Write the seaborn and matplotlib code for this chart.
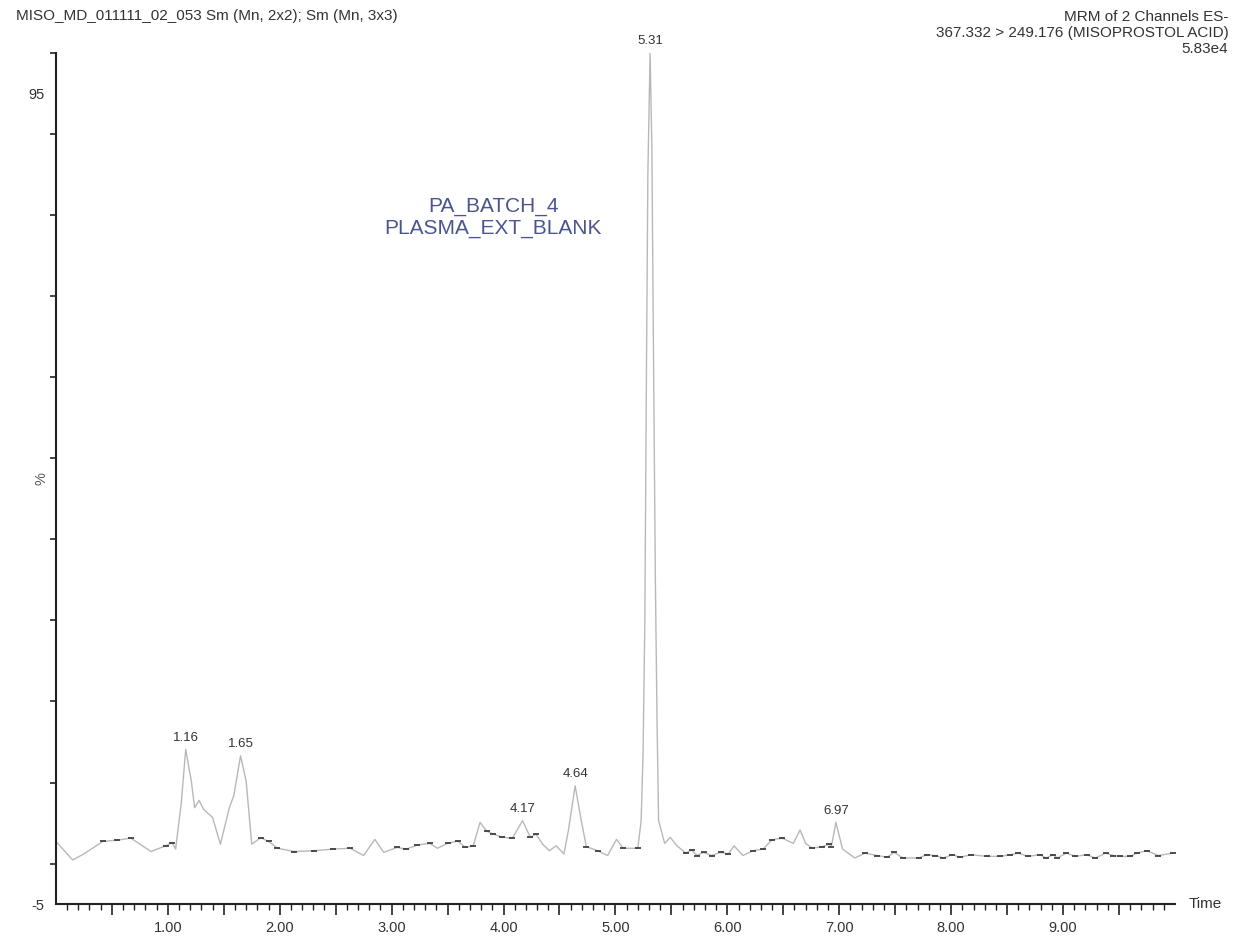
import numpy as np
import pandas as pd
import matplotlib
matplotlib.use("Agg")
import matplotlib.pyplot as plt
import seaborn as sns

# chromatogram trace (time in min, intensity in %)
time = [0.01, 0.15, 0.25, 0.42, 0.55, 0.67, 0.85, 0.98, 1.04, 1.07, 1.12, 1.16, 1.21, 1.24, 1.28,
        1.32, 1.40, 1.47, 1.55, 1.59, 1.65, 1.70, 1.75, 1.83, 1.90, 1.98, 2.13, 2.31, 2.48, 2.63,
        2.75, 2.85, 2.93, 3.05, 3.13, 3.23, 3.34, 3.41, 3.50, 3.59, 3.66, 3.73, 3.79, 3.85, 3.91,
        3.99, 4.08, 4.17, 4.24, 4.29, 4.35, 4.41, 4.47, 4.54, 4.58, 4.64, 4.69, 4.74, 4.84, 4.93,
        5.01, 5.07, 5.20, 5.23, 5.247, 5.263, 5.277, 5.29, 5.31, 5.326, 5.339, 5.357, 5.372, 5.386,
        5.44, 5.49, 5.55, 5.63, 5.68, 5.73, 5.79, 5.86, 5.94, 6.01, 6.06, 6.14, 6.23, 6.32, 6.40,
        6.49, 6.59, 6.65, 6.70, 6.76, 6.85, 6.91, 6.93, 6.97, 7.00, 7.03, 7.14, 7.23, 7.34, 7.43,
        7.49, 7.57, 7.71, 7.78, 7.86, 7.93, 8.01, 8.08, 8.18, 8.32, 8.44, 8.53, 8.60, 8.69, 8.79,
        8.85, 8.91, 8.95, 9.03, 9.11, 9.21, 9.29, 9.38, 9.45, 9.51, 9.60, 9.66, 9.75, 9.85, 9.98]
intensity = [2.6, 0.45, 1.2, 2.75, 2.9, 3.15, 1.5, 2.2, 2.6, 1.8, 7.4, 14.1, 10.2, 6.9, 7.8,
             6.7, 5.7, 2.4, 6.9, 8.4, 13.3, 10.2, 2.4, 3.2, 2.75, 1.9, 1.5, 1.6, 1.8, 1.9,
             1.0, 3.0, 1.4, 2.0, 1.8, 2.3, 2.5, 1.9, 2.5, 2.8, 2.0, 2.2, 5.1, 4.0, 3.65,
             3.25, 3.15, 5.3, 3.25, 3.65, 2.4, 1.6, 2.2, 1.2, 4.1, 9.6, 5.7, 2.1, 1.6, 1.0,
             3.0, 1.9, 1.9, 5.3, 13.5, 30.0, 60.0, 85.0, 100.0, 88.0, 65.0, 35.0, 17.6, 5.3,
             2.5, 3.25, 2.2, 1.3, 1.7, 1.0, 1.4, 1.0, 1.4, 1.2, 2.2, 1.0, 1.6, 1.8, 2.95,
             3.15, 2.5, 4.15, 2.5, 1.9, 2.1, 2.4, 2.1, 5.1, 3.45, 1.8, 0.7, 1.3, 1.0, 0.8,
             1.4, 0.7, 0.7, 1.1, 1.0, 0.7, 1.1, 0.8, 1.1, 0.9, 0.9, 1.1, 1.3, 0.9, 1.1,
             0.7, 1.1, 0.7, 1.3, 0.9, 1.1, 0.7, 1.3, 1.0, 0.9, 0.9, 1.3, 1.6, 1.0, 1.3]

peak_times = [1.16, 1.65, 4.17, 4.64, 5.31, 6.97]
peak_heights = [14.1, 13.3, 5.3, 9.6, 100.0, 5.1]
peak_labels = ["1.16", "1.65", "4.17", "4.64", "5.31", "6.97"]

xtick_labels = ["1.00", "2.00", "3.00", "4.00", "5.00", "6.00", "7.00", "8.00", "9.00"]

df = pd.DataFrame({"time": time, "intensity": intensity})

sns.set_style("white")
plt.rcParams["font.family"] = ["Liberation Sans", "DejaVu Sans"]

fig = plt.figure(figsize=(12.42, 9.38), dpi=100)
ax = fig.add_axes([0.045, 0.036, 0.901, 0.908])

sns.lineplot(data=df, x="time", y="intensity", ax=ax, color="#b8b8b8", linewidth=1.0,
             estimator=None, sort=False)

# darker flat bits of the trace like in the scanned chart
dy = np.abs(np.diff(df["intensity"].values))
flat = np.r_[dy < 0.6, False] | np.r_[False, dy < 0.6]
ax.plot(df["time"][flat], df["intensity"][flat], linestyle="none", marker="_",
        markersize=4, color="#333333", markeredgewidth=1.2)

# peak annotations
for t, h, lab in zip(peak_times, peak_heights, peak_labels):
    ax.annotate(lab, (t, h), xytext=(0, 4), textcoords="offset points", ha="center",
                va="bottom", fontsize=9.5, color="#333333", annotation_clip=False)

ax.set_xlim(0, 10.0)
ax.set_ylim(-5, 100)

# x ticks: major every 0.5 (labels on whole minutes), minor every 0.1
major_x = np.arange(0.5, 10.0, 0.5)
ax.set_xticks(major_x)
ax.set_xticklabels([xtick_labels[int(v) - 1] if v == int(v) else "" for v in major_x])
ax.set_xticks(np.arange(0.1, 10.0, 0.1), minor=True)

# y axis: only 95 and -5 are labelled, small ticks every 10
ax.set_yticks([-5, 95])
ax.set_yticklabels(["-5", "95"])
ax.set_yticks(np.arange(0, 101, 10), minor=True)

ax.tick_params(axis="x", which="major", direction="out", length=8, width=1.2, color="#222222",
               labelsize=10.5, labelcolor="#333333", pad=4, bottom=True)
ax.tick_params(axis="x", which="minor", direction="out", length=4, width=1.0, color="#222222",
               bottom=True)
ax.tick_params(axis="y", which="major", length=0, labelsize=10.5, labelcolor="#333333", pad=8,
               left=True)
ax.tick_params(axis="y", which="minor", direction="out", length=4, width=1.2, color="#222222",
               left=True)

sns.despine(ax=ax)
for s in ["left", "bottom"]:
    ax.spines[s].set_color("#222222")
    ax.spines[s].set_linewidth(1.5)

ax.set_xlabel("")
ax.set_ylabel("%", fontsize=10.5, color="#555555", labelpad=0)
ax.yaxis.set_label_coords(-0.007, 0.5)

ax.text(1.012, 0.0, "Time", transform=ax.transAxes, ha="left", va="center", fontsize=11,
        color="#333333")

# header texts
fig.text(0.013, 0.983, "MISO_MD_011111_02_053 Sm (Mn, 2x2); Sm (Mn, 3x3)", ha="left", va="center",
         fontsize=11, color="#333333")
fig.text(0.989, 0.989, "MRM of 2 Channels ES-\n367.332 > 249.176 (MISOPROSTOL ACID)\n5.83e4",
         ha="right", va="top", fontsize=11, color="#333333", linespacing=1.15)

fig.text(0.397, 0.768, "PA_BATCH_4\nPLASMA_EXT_BLANK", ha="center", va="center", fontsize=15,
         color="#4a5590", linespacing=1.15)

fig.savefig("out.png", dpi=100, facecolor="white")
